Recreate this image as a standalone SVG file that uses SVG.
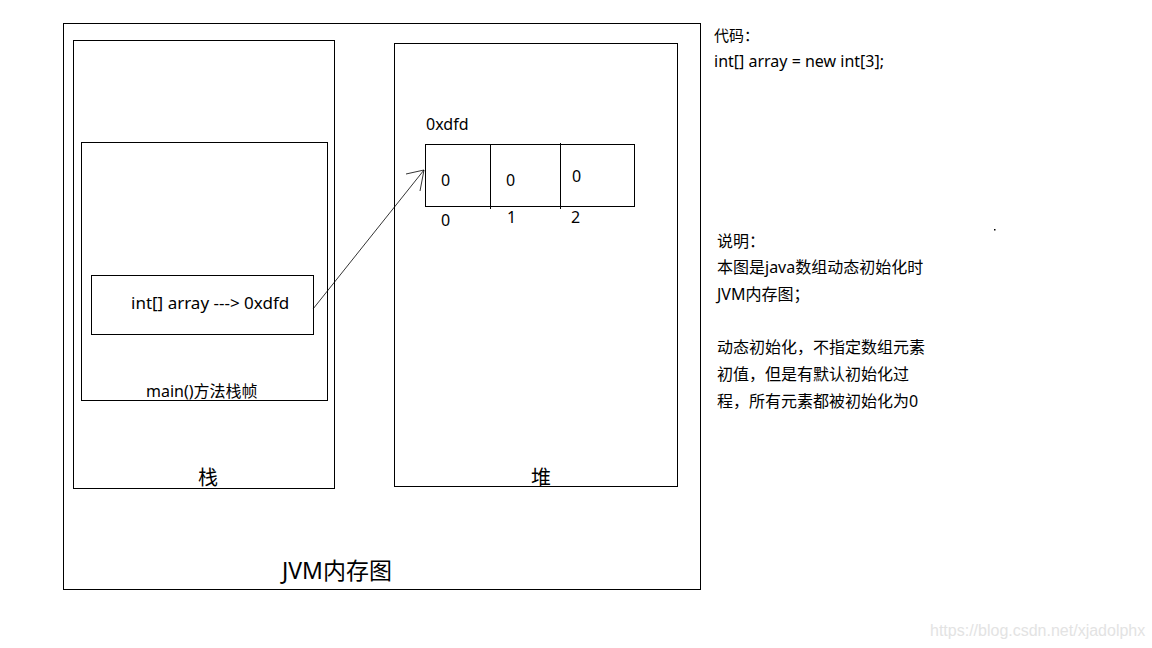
<svg xmlns="http://www.w3.org/2000/svg" width="1152" height="648" viewBox="0 0 1152 648">
<style>
.box{fill:none;stroke:#000;stroke-width:1}
text{font-family:"Noto Sans","Noto Sans CJK SC",sans-serif;fill:#000}
.t15{font-size:15px}
.t16{font-size:16px}
.t17{font-size:17px}
.t20{font-size:20px}
.t23{font-size:23px}
.conn{fill:none;stroke:#000;stroke-width:0.8}
</style>
<rect width="1152" height="648" fill="#fff"/>
<g id="jvm">
<rect class="box" x="63.5" y="23.5" width="637" height="566"/>
<text class="t23" x="282" y="579">JVM内存图</text>
</g>
<g id="stack">
<rect class="box" x="73.5" y="40.5" width="261" height="448"/>
<text class="t20" x="208" y="485" text-anchor="middle">栈</text>
</g>
<g id="main-frame">
<rect class="box" x="81.5" y="142.5" width="246" height="258"/>
<text class="t16" x="146" y="397">main()方法栈帧</text>
</g>
<g id="array-ref">
<rect class="box" x="91.5" y="275.5" width="222" height="59"/>
<text class="t17" x="131" y="309">int[] array ---&gt; 0xdfd</text>
</g>
<g id="heap">
<rect class="box" x="394.5" y="43.5" width="283" height="443"/>
<text class="t20" x="541" y="485" text-anchor="middle">堆</text>
</g>
<g id="array">
<text class="t16" x="426" y="130">0xdfd</text>
<rect class="box" x="425.5" y="144.5" width="209" height="62"/>
<line class="box" x1="490.5" y1="144" x2="490.5" y2="209"/>
<line class="box" x1="560.5" y1="143" x2="560.5" y2="209"/>
<text class="t16" x="441" y="186">0</text>
<text class="t16" x="506" y="186">0</text>
<text class="t16" x="572" y="182">0</text>
<text class="t16" x="441" y="226">0</text>
<text class="t16" x="507" y="223">1</text>
<text class="t16" x="571" y="223">2</text>
</g>
<g id="connectors">
<line class="conn" x1="313" y1="309" x2="424" y2="170"/>
<line class="conn" x1="406" y1="174" x2="424" y2="170"/>
<line class="conn" x1="420" y1="191" x2="424" y2="170"/>
</g>
<g id="code-note">
<text class="t15" x="714" y="41">代码：</text>
<text class="t16" x="714" y="67">int[] array = new int[3];</text>
</g>
<g id="desc-note">
<text class="t16" x="717" y="247">说明：</text>
<text class="t16" x="717" y="273">本图是java数组动态初始化时</text>
<text class="t16" x="717" y="300">JVM内存图；</text>
<text class="t16" x="717" y="353">动态初始化，不指定数组元素</text>
<text class="t16" x="717" y="380">初值，但是有默认初始化过</text>
<text class="t16" x="717" y="407">程，所有元素都被初始化为0</text>
</g>
<rect x="994" y="229" width="1.5" height="1.5" fill="#000"/>
<text x="930" y="636" style="font-family:'Liberation Sans',sans-serif;font-size:16px;fill:#e3e3e3">https://blog.csdn.net/xjadolphx</text>
</svg>
